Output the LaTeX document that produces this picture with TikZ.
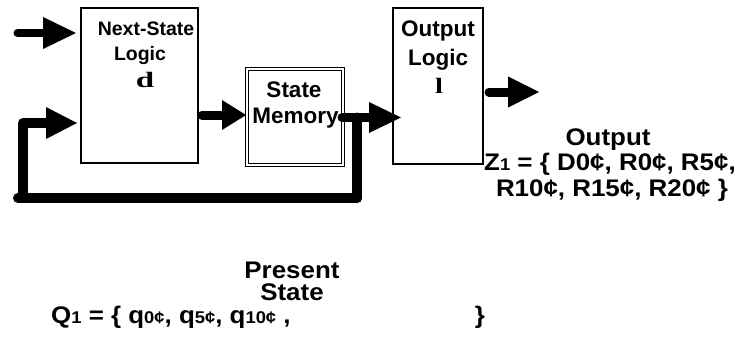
\documentclass[tikz,border=0pt]{standalone}
\usepackage{fontspec}
\usepackage{graphicx}
\setmainfont{Liberation Sans}
\newfontfamily\widefont[FakeStretch=1.08]{Liberation Sans}
\newfontfamily\symfont{Liberation Serif}
\usetikzlibrary{arrows.meta}

\newcommand{\fs}[1]{\fontsize{#1}{#1}\selectfont}
\newcommand{\sm}[1]{{\fs{17}#1}}

\begin{document}
\begin{tikzpicture}[x=1pt,y=-1pt,
  block/.style={draw, line width=1.8pt, fill=white, inner sep=0pt},
  memblock/.style={draw, line width=1pt, double, double distance=2pt, fill=white, inner sep=0pt},
  bus/.style={line width=9pt, line cap=round, line join=round},
  boxtext/.style={anchor=base, inner sep=0pt, font=\bfseries\fs{22.5}},
  nstext/.style={anchor=base, inner sep=0pt, font=\bfseries\fs{19.5}},
  symtext/.style={anchor=base, inner sep=0pt, font=\symfont\bfseries\fs{22}},
  settext/.style={anchor=base, inner sep=0pt, font=\widefont\bfseries\fs{24}}]

\useasboundingbox[fill=white] (0,0) rectangle (741,343);

% blocks
\node[block, minimum width=117pt, minimum height=155pt] (ns) at (139.5,85.5) {};
\node[memblock, minimum width=96pt, minimum height=96pt] (sm) at (294.5,116.5) {};
\node[block, minimum width=90pt, minimum height=156pt] (ol) at (438,86) {};

% block labels
\node[nstext] (nsA) at (146,35) {Next-State};
\node[nstext] (nsB) at (140,60) {Logic};
\node[symtext] (nsC) at (145,87) {\scalebox{1.5}[1]{d}};

\node[boxtext] (smA) at (294,97) {State};
\node[boxtext] (smB) at (295.5,123) {Memory};

\node[boxtext] (olA) at (438,36) {Output};
\node[boxtext] (olB) at (438,65) {Logic};
\node[symtext] (olC) at (439,93) {\scalebox{1.3}[1]{l}};

% connector end points
\coordinate (inS) at (17.5,33);
\coordinate (inT) at (76,33);
\coordinate (nsO) at (202,115);
\coordinate (smI) at (246,115);
\coordinate (smO) at (342,117.5);
\coordinate (olI) at (401,117.5);
\coordinate (tap) at (357,117.5);
\coordinate (fbBR) at (357,198);
\coordinate (fbBL) at (18,198);
\coordinate (fbC) at (23,198);
\coordinate (fbUp) at (23,123);
\coordinate (fbT) at (77,123);
\coordinate (olO) at (489,92);
\coordinate (outT) at (539,92);

% buses
\draw[bus, line width=8pt, -{Triangle[length=33pt,width=32pt,line width=0pt]}] (inS) -- (inT);
\draw[bus, line width=10pt] (tap) -- (fbBR);
\draw[bus, line width=10pt] (fbBL) -- (fbBR);
\draw[bus, line width=10pt, -{Triangle[length=31pt,width=32pt,line width=0pt]}] (fbC) -- (fbUp) -- (fbT);
\draw[bus, -{Triangle[length=24pt,width=30pt,line width=0pt]}] (nsO) -- (smI);
\draw[bus, -{Triangle[length=32pt,width=31pt,line width=0pt]}] (smO) -- (olI);
\draw[bus, -{Triangle[length=31pt,width=31pt,line width=0pt]}] (olO) -- (outT);

% output set
\node[settext] (outA) at (608,145) {Output};
\node[settext] (outB) at (610,170) {Z\sm{1} = \{ D0¢, R0¢, R5¢,};
\node[settext] (outC) at (612,196) {R10¢, R15¢, R20¢ \}};

% state set
\node[settext] (stA) at (292,278) {Present};
\node[settext] (stB) at (292,300.5) {State};
\node[settext, anchor=base west] (stC) at (51,323) {Q\sm{1} = \{ q\sm{0¢}, q\sm{5¢}, q\sm{10¢} ,};
\node[settext] (stD) at (480,323) {\}};
\end{tikzpicture}
\end{document}
